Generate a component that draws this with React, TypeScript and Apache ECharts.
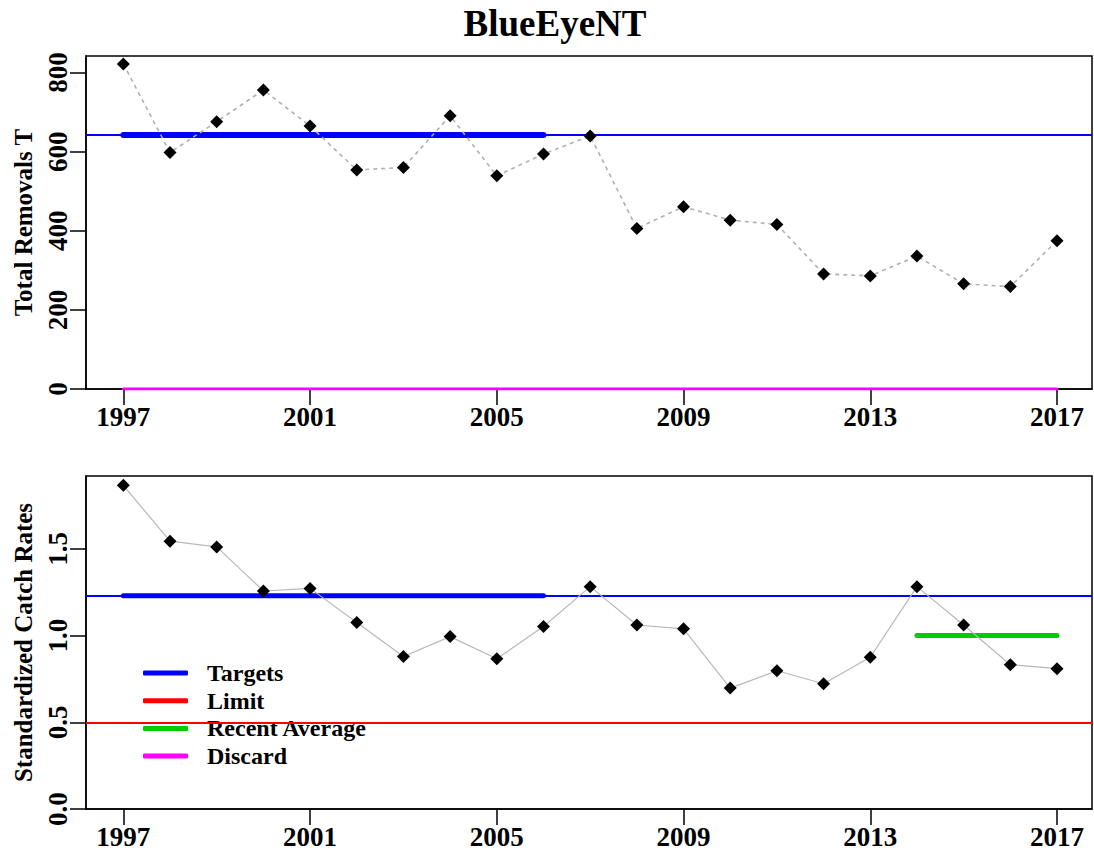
import React, { useEffect, useRef } from "react";
import * as echarts from "echarts";

const years = [1997, 1998, 1999, 2000, 2001, 2002, 2003, 2004, 2005, 2006, 2007, 2008, 2009, 2010, 2011, 2012, 2013, 2014, 2015, 2016, 2017];
const removals = [822, 598, 676, 756, 665, 554, 560, 691, 539, 594, 640, 406, 461, 427, 416, 291, 286, 336, 266, 259, 375];
const catchRates = [1.866, 1.544, 1.511, 1.257, 1.272, 1.075, 0.879, 0.994, 0.866, 1.052, 1.282, 1.061, 1.039, 0.697, 0.797, 0.722, 0.875, 1.282, 1.061, 0.832, 0.809];
const removalTarget = 642;
const catchTarget = 1.23;
const catchLimit = 0.5;
const recentAverage = 1.0;
const discardLevel = 0;
const targetYears = [1997, 2006];
const recentYears = [2014, 2017];
const discardYears = [1997, 2017];
const xTicks = [1997, 2001, 2005, 2009, 2013, 2017];
const removalTicks = [0, 200, 400, 600, 800];
const rateTicks = [0, 0.5, 1.0, 1.5];
const legendNames = ["Targets", "Limit", "Recent Average", "Discard"];
const titleText = "BlueEyeNT";
const topYName = "Total Removals T";
const bottomYName = "Standardized Catch Rates";

const FONT = "'Liberation Serif', 'Times New Roman', serif";
const BLUE = "#0000ff";
const RED = "#ff0000";
const GREEN = "#00cc00";
const MAGENTA = "#ff00ff";

export default function App() {
  const ref = useRef<HTMLDivElement>(null);
  useEffect(() => {
    if (!ref.current) return;
    const chart = echarts.init(ref.current, null, { renderer: "svg" });

    const xAxisBase = (gridIndex: number) => ({
      type: "value",
      gridIndex,
      min: 1996.2,
      max: 2017.75,
      axisLine: { show: true, onZero: false, lineStyle: { color: "#000", width: 1.5 } },
      axisTick: { show: true, length: 16, customValues: xTicks, lineStyle: { color: "#000", width: 1.5 } },
      axisLabel: {
        customValues: xTicks,
        margin: 14,
        fontFamily: FONT,
        fontWeight: "bold",
        fontSize: 27,
        lineHeight: 27,
        color: "#000",
        formatter: (v: number) => String(v),
      },
      splitLine: { show: false },
    });

    const yAxisBase = (gridIndex: number, max: number, ticks: number[], name: string, fmt: (v: number) => string) => ({
      type: "value",
      gridIndex,
      min: 0,
      max,
      name,
      nameLocation: "middle",
      nameGap: 50,
      nameTextStyle: { fontFamily: FONT, fontWeight: "bold", fontSize: 25, lineHeight: 25, color: "#000" },
      axisLine: { show: true, onZero: false, lineStyle: { color: "#000", width: 1.5 } },
      axisTick: { show: true, length: 16, customValues: ticks, lineStyle: { color: "#000", width: 1.5 } },
      axisLabel: {
        customValues: ticks,
        rotate: 90,
        margin: 15,
        fontFamily: FONT,
        fontWeight: "bold",
        fontSize: 27,
        lineHeight: 27,
        color: "#000",
        formatter: fmt,
      },
      splitLine: { show: false },
    });

    const pointSeries = (idx: number, values: number[], dashed: boolean) => ({
      type: "line",
      xAxisIndex: idx,
      yAxisIndex: idx,
      data: years.map((y, i) => [y, values[i]]),
      symbol: "diamond",
      symbolSize: 13,
      itemStyle: { color: "#000" },
      lineStyle: { color: dashed ? "#b0b0b0" : "#b8b8b8", width: dashed ? 1.6 : 1.2, type: dashed ? [4, 4] : "solid" },
      z: 10,
      silent: true,
    });

    const segSeries = (name: string, idx: number, xs: number[], level: number, color: string, width: number) => ({
      name,
      type: "line",
      xAxisIndex: idx,
      yAxisIndex: idx,
      data: xs.map((x) => [x, level]),
      symbol: "none",
      color,
      itemStyle: { color },
      lineStyle: { color, width, cap: "round" },
      z: 5,
      silent: true,
    });

    const fullLine = (name: string, idx: number, level: number, color: string, width: number) => ({
      name,
      type: "line",
      xAxisIndex: idx,
      yAxisIndex: idx,
      data: [],
      color,
      itemStyle: { color },
      lineStyle: { color, width },
      markLine: {
        silent: true,
        symbol: "none",
        label: { show: false },
        lineStyle: { color, width, type: "solid" },
        data: [{ yAxis: level }],
      },
      z: 4,
    });

    const option = {
      animation: false,
      backgroundColor: "#fff",
      graphic: [
        {
          type: "text",
          x: 555,
          y: 23,
          style: {
            text: titleText,
            fontFamily: FONT,
            fontWeight: "bold",
            fontSize: 37,
            fill: "#000",
            align: "center",
            verticalAlign: "middle",
          },
        },
      ],
      legend: {
        orient: "vertical",
        left: 138,
        top: 656,
        itemWidth: 45,
        itemHeight: 5,
        itemGap: 3.7,
        icon: "roundRect",
        data: legendNames,
        selectedMode: false,
        textStyle: {
          fontFamily: FONT,
          fontWeight: "bold",
          fontSize: 24,
          lineHeight: 24,
          color: "#000",
          padding: [0, 0, 0, 14],
        },
      },
      grid: [
        { left: 86, top: 56, width: 1006, height: 333, show: true, borderColor: "#000", borderWidth: 1.5, backgroundColor: "transparent" },
        { left: 86, top: 476, width: 1006, height: 333, show: true, borderColor: "#000", borderWidth: 1.5, backgroundColor: "transparent" },
      ],
      xAxis: [xAxisBase(0), xAxisBase(1)],
      yAxis: [
        yAxisBase(0, 842, removalTicks, topYName, (v: number) => String(v)),
        yAxisBase(1, 1.92, rateTicks, bottomYName, (v: number) => v.toFixed(1)),
      ],
      series: [
        fullLine("Targets", 0, removalTarget, BLUE, 2),
        segSeries("Targets", 0, targetYears, removalTarget, BLUE, 6),
        segSeries("Discard", 0, discardYears, discardLevel, MAGENTA, 3),
        pointSeries(0, removals, true),
        fullLine("Targets", 1, catchTarget, BLUE, 2),
        segSeries("Targets", 1, targetYears, catchTarget, BLUE, 5),
        fullLine("Limit", 1, catchLimit, RED, 2),
        segSeries("Recent Average", 1, recentYears, recentAverage, GREEN, 5),
        pointSeries(1, catchRates, false),
      ],
    };

    chart.setOption(option as any);
    return () => chart.dispose();
  }, []);

  return (
    <div
      ref={ref}
      style={{ position: "fixed", left: 0, top: 0, width: 1094, height: 853, background: "#fff" }}
    />
  );
}
